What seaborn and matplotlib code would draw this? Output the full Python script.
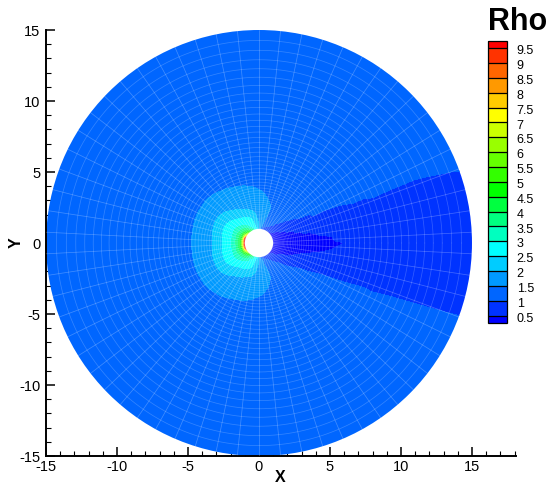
import numpy as np
import matplotlib
matplotlib.use('Agg')
import matplotlib.pyplot as plt
import matplotlib.tri as mtri
from matplotlib.patches import Circle
from matplotlib.transforms import ScaledTranslation
import seaborn as sns

# Rho, upper half of the disk (lower half is the mirror)
radii = [1, 1.1, 1.25, 1.5, 1.75, 2, 2.5, 3, 3.5, 4, 5, 6, 8, 10, 15.06]
angles = [0, 5, 10, 15, 20, 25, 30, 35, 40, 45, 50, 55, 60, 70, 80, 90,
          100, 110, 120, 130, 140, 150, 160, 170, 180]
# one row per angle, one value per radius
rho = [
    [.35, .35, .35, .35, .35, .35, .36, .37, .38, .40, .45, .50, .85, .90, .90],
    [.35, .35, .35, .36, .36, .37, .38, .39, .40, .42, .48, .60, .85, .90, .90],
    [.36, .36, .36, .37, .38, .38, .40, .42, .45, .50, .65, .75, .85, .90, .90],
    [.37, .37, .38, .38, .40, .42, .45, .50, .60, .65, .75, .80, .85, .90, .90],
    [.38, .38, .40, .40, .42, .45, .50, .60, .70, .75, .80, .85, .85, .78, 1.005],
    [.40, .42, .43, .45, .47, .50, .65, .75, .85, .90, .90, .98, 1.1, 1.3, 1.3],
    [.40, .42, .45, .47, .55, .65, .80, .90, .95, 1.0, 1.2, 1.3, 1.3, 1.3, 1.3],
    [.40, .42, .45, .50, .65, .80, .90, 1.0, 1.15, 1.25, 1.3, 1.3, 1.3, 1.3, 1.3],
    [.40, .45, .55, .70, .80, .90, 1.0, 1.15, 1.25, 1.3, 1.3, 1.3, 1.3, 1.3, 1.3],
    [.42, .50, .65, .80, .90, 1.0, 1.2, 1.3, 1.3, 1.3, 1.3, 1.3, 1.3, 1.3, 1.3],
    [.45, .55, .75, .90, 1.0, 1.1, 1.25, 1.3, 1.3, 1.3, 1.3, 1.3, 1.3, 1.3, 1.3],
    [.50, .65, .85, .98, 1.2, 1.25, 1.3, 1.3, 1.3, 1.3, 1.3, 1.3, 1.3, 1.3, 1.3],
    [.65, .75, .90, 1.1, 1.25, 1.3, 1.32, 1.32, 1.3, 1.3, 1.3, 1.3, 1.3, 1.3, 1.3],
    [.80, .90, 1.05, 1.3, 1.4, 1.45, 1.48, 1.45, 1.42, 1.38, 1.33, 1.3, 1.3, 1.3, 1.3],
    [.98, 1.15, 1.55, 1.6, 1.62, 1.62, 1.58, 1.53, 1.47, 1.42, 1.35, 1.3, 1.3, 1.3, 1.3],
    [1.7, 1.9, 1.95, 1.9, 1.85, 1.8, 1.7, 1.62, 1.55, 1.46, 1.36, 1.32, 1.3, 1.3, 1.3],
    [2.5, 2.45, 2.4, 2.3, 2.2, 2.1, 1.9, 1.75, 1.62, 1.51, 1.38, 1.33, 1.3, 1.3, 1.3],
    [3.0, 2.9, 2.8, 2.7, 2.58, 2.4, 2.0, 1.8, 1.65, 1.55, 1.38, 1.33, 1.3, 1.3, 1.3],
    [4.0, 3.4, 3.0, 2.85, 2.7, 2.55, 2.15, 1.85, 1.7, 1.6, 1.4, 1.34, 1.3, 1.3, 1.3],
    [5.0, 4.2, 3.7, 3.2, 2.85, 2.65, 2.3, 2.0, 1.8, 1.68, 1.42, 1.35, 1.31, 1.3, 1.3],
    [6.0, 5.0, 4.2, 3.5, 3.05, 2.8, 2.47, 2.15, 1.9, 1.75, 1.45, 1.36, 1.31, 1.3, 1.3],
    [7.5, 6.2, 4.6, 3.7, 3.25, 2.95, 2.6, 2.25, 1.95, 1.78, 1.45, 1.36, 1.32, 1.3, 1.3],
    [9.5, 7.0, 4.8, 3.85, 3.25, 2.93, 2.62, 2.24, 1.95, 1.78, 1.45, 1.36, 1.32, 1.3, 1.3],
    [9.8, 7.3, 5.0, 3.85, 3.25, 2.93, 2.58, 2.2, 1.92, 1.76, 1.44, 1.36, 1.32, 1.3, 1.3],
    [9.9, 7.3, 5.0, 3.85, 3.25, 2.92, 2.55, 2.15, 1.9, 1.75, 1.44, 1.36, 1.32, 1.3, 1.3],
]

levels = [0.5, 1, 1.5, 2, 2.5, 3, 3.5, 4, 4.5, 5, 5.5, 6, 6.5, 7, 7.5, 8, 8.5, 9, 9.5]
band_colors = ['#0000ff', '#0033ff', '#0066ff', '#0099ff', '#00ccff', '#00ffff',
               '#00ffbf', '#00ff80', '#00ff40', '#00ff00', '#33ff00', '#66ff00',
               '#99ff00', '#ccff00', '#ffff00', '#ffcc00', '#ff9900', '#ff6600',
               '#ff3300', '#ff0000']

sns.set_style('ticks')
plt.rcParams['font.family'] = ['Liberation Sans', 'DejaVu Sans']
plt.rcParams['axes.unicode_minus'] = False
plt.rcParams['text.color'] = 'black'
plt.rcParams['axes.labelcolor'] = 'black'
plt.rcParams['xtick.color'] = 'black'
plt.rcParams['ytick.color'] = 'black'
plt.rcParams['axes.edgecolor'] = 'black'

# mirror the table to get the full disk
ang = np.array(angles, dtype=float)
full_ang = np.deg2rad(np.concatenate([-ang[:0:-1], ang]))
table = np.array(rho)
full_rho = np.vstack([table[:0:-1], table])

# smooth the table in (angle, log radius) so the contours come out round
T, L = np.meshgrid(full_ang, np.log(radii), indexing='ij')
n_a, n_r = T.shape
ids = np.arange(n_a * n_r).reshape(n_a, n_r)
quads = np.stack([ids[:-1, :-1], ids[1:, :-1], ids[1:, 1:], ids[:-1, 1:]], axis=-1).reshape(-1, 4)
tris = np.vstack([quads[:, [0, 1, 2]], quads[:, [0, 2, 3]]])
param = mtri.Triangulation(T.ravel(), L.ravel(), tris)
cubic = mtri.CubicTriInterpolator(param, full_rho.ravel(), kind='geom')
fine, fine_rho = mtri.UniformTriRefiner(param).refine_field(full_rho.ravel(), cubic, subdiv=3)
# the wake edge is a sharp straight jump, cubic makes it ripple
linear = mtri.LinearTriInterpolator(param, full_rho.ravel())
in_wake = np.abs(fine.x) < np.deg2rad(70)
fine_rho = np.where(in_wake, np.ma.filled(linear(fine.x, fine.y), 1.3), fine_rho)
disk = mtri.Triangulation(np.exp(fine.y) * np.cos(fine.x), np.exp(fine.y) * np.sin(fine.x), fine.triangles)

W, H = 551, 486
fig = plt.figure(figsize=(W / 100, H / 100), dpi=100)
ax = fig.add_axes([46 / W, 30 / H, 470 / W, 426 / H])

cf = ax.tricontourf(disk, fine_rho, levels=levels, colors=band_colors[1:-1], extend='both')
cf.cmap.set_under(band_colors[0])
cf.cmap.set_over(band_colors[-1])
cf.changed()
# round off the rim and the hole
cf.set_clip_path(Circle((0, 0), 15, transform=ax.transData))
ax.add_patch(Circle((0, 0), 1, facecolor='white', edgecolor='none', zorder=2))

# grid of the solution, drawn faintly on top
circle = np.linspace(0, 2 * np.pi, 241)
for r in np.geomspace(1, 15, 55)[:-1]:
    ax.plot(r * np.cos(circle), r * np.sin(circle), color='white', lw=0.55, alpha=0.2, zorder=3)
for k in range(62):
    a = (k + 0.5) * 2 * np.pi / 62
    ax.plot([np.cos(a), 15 * np.cos(a)], [np.sin(a), 15 * np.sin(a)],
            color='white', lw=0.55, alpha=0.25, zorder=3)

ax.set_xlim(-15, 18.1)
ax.set_ylim(-15, 15)
ax.set_xticks(range(-15, 16, 5))
ax.set_yticks(range(-15, 16, 5))
ax.set_xticks(range(-15, 19), minor=True)
ax.set_yticks(range(-15, 16), minor=True)
ax.tick_params(which='major', direction='in', length=6.5, width=1.1, labelsize=10.5, pad=3)
ax.tick_params(which='minor', direction='in', length=3.5, width=0.8)
ax.tick_params(axis='y', which='major', pad=4)
ax.set_xlabel('X', fontsize=11.5, fontweight='bold', va='center')
ax.set_ylabel('Y', fontsize=11.5, fontweight='bold', va='center')
ax.xaxis.set_label_coords((280 - 46) / 470, -21 / 426)
ax.yaxis.set_label_coords((16 - 46) / 470, 0.5)
sns.despine(ax=ax)
for side in ['left', 'bottom']:
    ax.spines[side].set_linewidth(1.4)

# legend bar, the two end cells sit inside this box
cax = fig.add_axes([488 / W, (H - 323) / H, 19 / W, 282.3 / H])
cb = fig.colorbar(cf, cax=cax, drawedges=True, extendrect=True, extendfrac=0.028)
cb.set_ticks(levels)
cb.set_ticklabels([f'{v:g}' for v in levels])
cb.ax.tick_params(length=0, labelsize=9, pad=7)
cb.outline.set_linewidth(0.9)
cb.dividers.set_linewidth(0.9)
cb.minorticks_off()
nudge = ScaledTranslation(0, -1.7 / 100, fig.dpi_scale_trans)
for lab in cb.ax.get_yticklabels():
    lab.set_transform(lab.get_transform() + nudge)
fig.text(517.5 / W, (H - 22) / H, 'Rho', fontsize=22, fontweight='bold', ha='center', va='center')

fig.savefig('out.png', dpi=100)
